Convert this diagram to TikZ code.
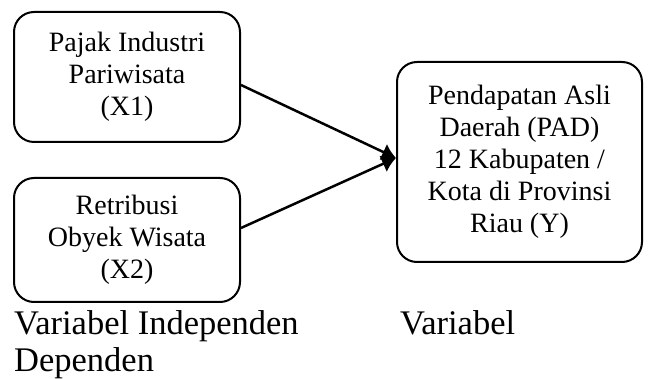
\documentclass[tikz,border=0pt]{standalone}
\usepackage{fontspec}
\setmainfont{Liberation Serif}
\usetikzlibrary{arrows.meta,calc}
\begin{document}
\begin{tikzpicture}[x=1pt,y=-1pt,
  box/.style={draw, line width=2pt, rounded corners=20pt, align=center,
    font=\fontsize{28}{32}\selectfont, inner sep=0pt},
  conn/.style={line width=2.5pt, -{Latex[length=14pt,width=18pt]}},
  lbl/.style={font=\fontsize{34.5}{37}\selectfont, anchor=base west, inner sep=0pt}]
\useasboundingbox (0,0) rectangle (649,379);
\node[box, minimum width=226pt, minimum height=130pt] (x1) at (127,77) {Pajak Industri\\Pariwisata\\(X1)};
\node[box, minimum width=226pt, minimum height=124pt] (x2) at (127,240) {Retribusi\\Obyek Wisata\\(X2)};
\node[box, minimum width=245pt, minimum height=200pt] (y) at (519.5,162) {Pendapatan Asli\\Daerah (PAD)\\12 Kabupaten /\\Kota di Provinsi\\Riau (Y)};
\coordinate (s1) at ($(x1.east)+(0,8)$);
\coordinate (s2) at ($(x2.east)+(0,-12)$);
\coordinate (tip) at ($(y.west)+(0,-4)$);
\draw[conn] (s1) -- (tip);
\draw[conn] (s2) -- (tip);
\node[lbl] (l1) at (14,335) {Variabel Independen};
\node[lbl] (l2) at (400,335) {Variabel};
\node[lbl] (l3) at (14,372) {Dependen};
\end{tikzpicture}
\end{document}
